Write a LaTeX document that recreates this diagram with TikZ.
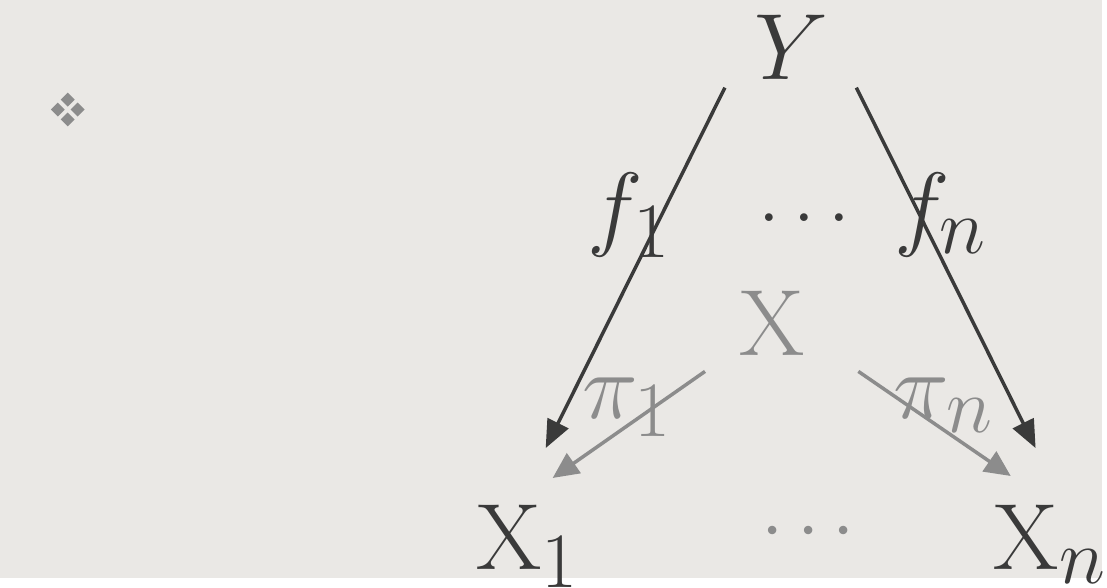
\documentclass[tikz,border=0pt]{standalone}
\usetikzlibrary{arrows.meta}
\definecolor{bg}{HTML}{EAE8E5}
\definecolor{dk}{HTML}{3A3A3A}
\definecolor{gr}{HTML}{8C8C8C}
\newcommand{\bigtxt}[1]{\scalebox{3.8}{\Huge #1}}
\tikzset{
  big/.style={inner sep=0pt, anchor=base},
  darr/.style={draw=dk, line width=3.5pt, -{Triangle[length=28pt,width=23pt]}},
  garr/.style={draw=gr, line width=3.5pt, -{Triangle[length=26pt,width=24pt]}},
}
\begin{document}
\begin{tikzpicture}[x=1pt,y=-1pt]
\fill[bg] (0,0) rectangle (1107,580);
% bullet
\foreach \dx/\dy in {0/-10,10/0,0/10,-10/0}
  \fill[gr] (68+\dx,110+\dy) +(0,-7) -- +(7,0) -- +(0,7) -- +(-7,0) -- cycle;
% nodes
\node[big, text=dk] (Y) at (795,80) {\bigtxt{$Y$}};
\node[big, text=gr] (X) at (775,357) {\bigtxt{$\mathrm{X}$}};
\node[big, text=dk, anchor=base west] (X1) at (478,572) {\bigtxt{$\mathrm{X}_1$}};
\node[big, text=dk, anchor=base west] (Xn) at (998,572) {\bigtxt{$\mathrm{X}_n$}};
\node[big, text=gr] (dotsb) at (812,553) {\scalebox{0.85}{\bigtxt{$\cdots$}}};
\node[big, text=dk] (dotst) at (808,222) {\scalebox{0.85}{\bigtxt{$\ldots$}}};
% arrow endpoints
\coordinate (a1) at (728,88); \coordinate (b1) at (548,450);
\coordinate (a2) at (860,88); \coordinate (b2) at (1040,450);
\coordinate (c1) at (708,373); \coordinate (d1) at (555,480);
\coordinate (c2) at (862,373); \coordinate (d2) at (1015,478);
\draw[darr] (a1) -- (b1);
\draw[darr] (a2) -- (b2);
\draw[garr] (c1) -- (d1);
\draw[garr] (c2) -- (d2);
% labels
\node[big, text=dk] (f1) at (632,240) {\bigtxt{$f_1$}};
\node[big, text=dk] (fn) at (945,240) {\bigtxt{$f_n$}};
\node[big, text=gr] (p1) at (630,420) {\bigtxt{$\pi_1$}};
\node[big, text=gr] (pn) at (948,420) {\bigtxt{$\pi_n$}};
\end{tikzpicture}
\end{document}
